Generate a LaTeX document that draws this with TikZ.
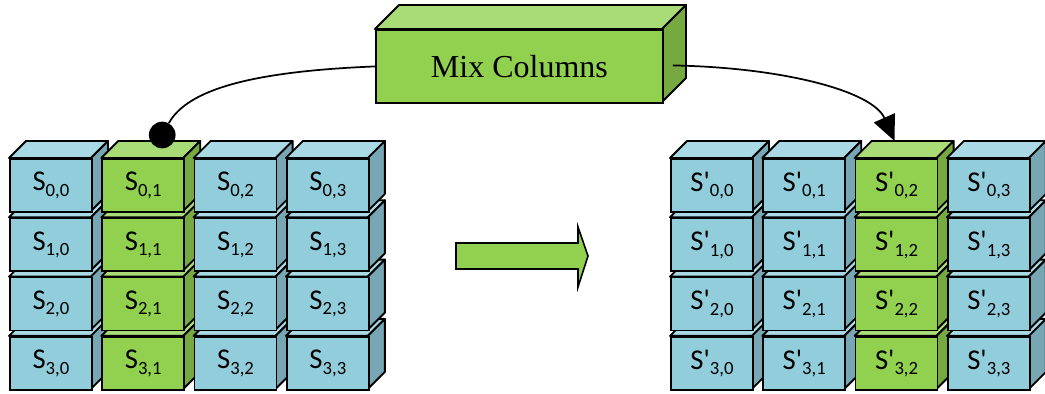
\documentclass[tikz,border=0pt]{standalone}
\usepackage{fontspec}
\setmainfont{Liberation Serif}
\newfontfamily\cellfont{Carlito}[Ligatures=TeXOff]
\usetikzlibrary{calc,arrows.meta}
\definecolor{bfront}{HTML}{92CDDC}
\definecolor{btop}{HTML}{A9D9E4}
\definecolor{bside}{HTML}{77A7B4}
\definecolor{gfront}{HTML}{92D050}
\definecolor{gtop}{HTML}{A9DC76}
\definecolor{gside}{HTML}{77A941}
\newcommand\cellsub[1]{\raisebox{-4.2pt}{\fontsize{14}{15}\selectfont #1}}
\newcommand\celltext[1]{\cellfont\fontsize{21.5}{23}\selectfont #1}
\tikzset{
  face/.style={draw=black, line width=1.4pt, line join=round},
  cellbox/.style={draw=black, line width=1.4pt, inner sep=0pt, minimum width=61.5pt, minimum height=39.75pt},
  mixbox/.style={draw=black, line width=1.4pt, inner sep=0pt, fill=gfront, minimum width=215.25pt, minimum height=54.75pt, font=\fontsize{24}{26}\selectfont},
  conn/.style={draw=black, line width=1.3pt},
}
\begin{document}
\begin{tikzpicture}[x=0.75pt, y=-0.75pt]
\path[use as bounding box] (0,0) rectangle (1045,393);
% left grid
\foreach \r in {3,2,1,0}{
  \foreach \c in {0,1,2,3}{
    \pgfmathsetmacro\x{9+92.3*\c}
    \pgfmathsetmacro\y{158+59.3*\r}
    \ifnum\c=1 \def\fc{g}\else\def\fc{b}\fi
    \filldraw[face, fill=\fc top] (\x,\y) -- ++(17,-17) -- ++(82,0) -- ++(-17,17) -- cycle;
    \filldraw[face, fill=\fc side] (\x+82,\y) -- ++(17,-17) -- ++(0,53) -- ++(-17,17) -- cycle;
    \node[cellbox, fill=\fc front, anchor=north west] (L\r\c) at (\x,\y) {\celltext{S\cellsub{\r,\c}}};
  }
}
% right grid
\foreach \r in {3,2,1,0}{
  \foreach \c in {0,1,2,3}{
    \pgfmathsetmacro\x{670+92.3*\c}
    \pgfmathsetmacro\y{158+59.3*\r}
    \ifnum\c=2 \def\fc{g}\else\def\fc{b}\fi
    \filldraw[face, fill=\fc top] (\x,\y) -- ++(17,-17) -- ++(82,0) -- ++(-17,17) -- cycle;
    \filldraw[face, fill=\fc side] (\x+82,\y) -- ++(17,-17) -- ++(0,53) -- ++(-17,17) -- cycle;
    \node[cellbox, fill=\fc front, anchor=north west] (R\r\c) at (\x,\y) {\celltext{S'\cellsub{\r,\c}}};
  }
}
% Mix Columns box
\filldraw[face, fill=gtop] (375,29) -- (399,5) -- (686,5) -- (662,29) -- cycle;
\filldraw[face, fill=gside] (662,29) -- (686,5) -- (686,78) -- (662,102) -- cycle;
\node[mixbox, anchor=north west] (mix) at (375,29) {Mix Columns};
% block arrow
\filldraw[face, fill=gfront, line width=1.2pt, line join=miter] (456,243) -- (578,243) -- (578,227) -- (588,256) -- (578,287) -- (578,269) -- (456,269) -- cycle;
% connectors
\coordinate (mixside) at ($(mix.east)+(9,-1)$);
\coordinate (rtip) at ($(R02.north)+(-2,-17)$);
\node[circle, fill=black, inner sep=0pt, minimum size=20pt] (dot) at ($(L01.north)+(19,-23)$) {};
\draw[conn] (mix.west) .. controls +(-125,5) and +(25,-45) .. (dot);
\draw[conn, -{Triangle[length=19pt, width=17pt]}] (mixside) .. controls +(110,2) and +(-22,-50) .. (rtip);
\end{tikzpicture}
\end{document}
